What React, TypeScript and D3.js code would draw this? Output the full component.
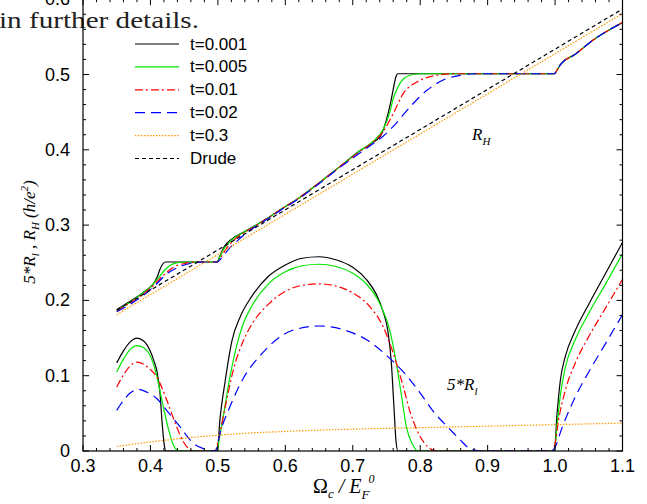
import React from "react";
import * as d3 from "d3";

type P = [number, number];

const legendLabels = ["t=0.001", "t=0.005", "t=0.01", "t=0.02", "t=0.3", "Drude"];
const xTicks = [0.3, 0.4, 0.5, 0.6, 0.7, 0.8, 0.9, 1.0, 1.1];
const yTicks = [0, 0.1, 0.2, 0.3, 0.4, 0.5, 0.6];

// 5*R_l curves
const rl001: P[] = [[0.35,0.117],[0.36,0.133],[0.37,0.145],[0.38,0.150],[0.39,0.146],[0.40,0.132],[0.405,0.120],[0.41,0.104],[0.414,0.078],[0.418,0.030],[0.421,0.005],[0.423,0],[0.499,0],[0.503,0.041],[0.511,0.094],[0.521,0.147],[0.533,0.178],[0.55,0.205],[0.575,0.232],[0.6,0.247],[0.625,0.256],[0.65,0.258],[0.675,0.254],[0.7,0.244],[0.72,0.228],[0.735,0.208],[0.745,0.185],[0.752,0.160],[0.757,0.120],[0.761,0.060],[0.764,0.015],[0.767,0],[0.999,0],[1.003,0.05],[1.008,0.095],[1.015,0.125],[1.03,0.16],[1.05,0.195],[1.075,0.236],[1.1,0.277]];
const rl005: P[] = [[0.35,0.105],[0.36,0.122],[0.37,0.135],[0.38,0.140],[0.39,0.137],[0.40,0.126],[0.409,0.101],[0.419,0.059],[0.427,0.028],[0.434,0.008],[0.44,0.001],[0.445,0],[0.499,0],[0.502,0.015],[0.508,0.046],[0.518,0.099],[0.530,0.147],[0.538,0.170],[0.55,0.192],[0.575,0.222],[0.6,0.238],[0.625,0.246],[0.65,0.248],[0.675,0.245],[0.7,0.236],[0.72,0.222],[0.74,0.196],[0.755,0.160],[0.765,0.115],[0.772,0.075],[0.78,0.030],[0.788,0.010],[0.797,0],[0.999,0],[1.003,0.035],[1.008,0.075],[1.015,0.11],[1.03,0.148],[1.05,0.183],[1.075,0.222],[1.1,0.262]];
const rl01: P[] = [[0.35,0.085],[0.36,0.101],[0.37,0.113],[0.38,0.118],[0.39,0.115],[0.40,0.108],[0.409,0.099],[0.424,0.068],[0.439,0.032],[0.449,0.012],[0.457,0.003],[0.465,0],[0.496,0],[0.5,0.012],[0.511,0.059],[0.523,0.108],[0.538,0.147],[0.553,0.172],[0.575,0.195],[0.6,0.212],[0.625,0.220],[0.65,0.222],[0.675,0.219],[0.7,0.210],[0.725,0.192],[0.745,0.165],[0.76,0.130],[0.775,0.085],[0.785,0.052],[0.795,0.028],[0.805,0.012],[0.815,0.003],[0.825,0],[0.996,0],[1.0,0.01],[1.005,0.04],[1.015,0.08],[1.03,0.117],[1.05,0.152],[1.075,0.19],[1.1,0.228]];
const rl02: P[] = [[0.35,0.054],[0.36,0.067],[0.37,0.077],[0.382,0.082],[0.395,0.078],[0.409,0.070],[0.424,0.054],[0.444,0.032],[0.464,0.010],[0.479,0.003],[0.49,0],[0.497,0.001],[0.503,0.023],[0.518,0.059],[0.538,0.097],[0.563,0.127],[0.587,0.148],[0.61,0.160],[0.65,0.166],[0.69,0.160],[0.72,0.148],[0.75,0.127],[0.78,0.100],[0.8,0.077],[0.82,0.052],[0.845,0.028],[0.859,0.015],[0.874,0.003],[0.89,0],[0.995,0],[1.0,0.005],[1.01,0.03],[1.03,0.072],[1.05,0.105],[1.075,0.143],[1.1,0.181]];
const rl3: P[] = [[0.35,0.006],[0.4,0.012],[0.45,0.017],[0.5,0.021],[0.55,0.024],[0.6,0.026],[0.7,0.029],[0.8,0.031],[0.9,0.033],[1.0,0.035],[1.1,0.037]];

// R_H curves
const rh001: P[] = [[0.35,0.188],[0.37,0.199],[0.39,0.211],[0.40,0.218],[0.405,0.223],[0.41,0.231],[0.414,0.241],[0.418,0.248],[0.422,0.251],[0.499,0.251],[0.503,0.259],[0.51,0.272],[0.52,0.281],[0.543,0.293],[0.57,0.307],[0.592,0.320],[0.62,0.336],[0.65,0.356],[0.68,0.377],[0.711,0.399],[0.73,0.41],[0.741,0.418],[0.75,0.44],[0.756,0.462],[0.761,0.485],[0.764,0.497],[0.767,0.501],[0.999,0.501],[1.003,0.506],[1.008,0.513],[1.03,0.527],[1.057,0.546],[1.1,0.569]];
const rh005: P[] = [[0.35,0.187],[0.37,0.198],[0.39,0.211],[0.40,0.218],[0.41,0.228],[0.42,0.239],[0.43,0.247],[0.44,0.250],[0.45,0.251],[0.499,0.251],[0.503,0.258],[0.51,0.270],[0.52,0.280],[0.543,0.293],[0.57,0.307],[0.592,0.320],[0.62,0.336],[0.65,0.356],[0.68,0.377],[0.711,0.399],[0.73,0.411],[0.745,0.427],[0.755,0.45],[0.76,0.468],[0.768,0.485],[0.775,0.494],[0.785,0.499],[0.8,0.501],[0.999,0.501],[1.003,0.506],[1.008,0.513],[1.03,0.527],[1.057,0.546],[1.1,0.569]];
const rh01: P[] = [[0.35,0.186],[0.37,0.197],[0.39,0.209],[0.40,0.216],[0.42,0.234],[0.434,0.244],[0.45,0.249],[0.47,0.251],[0.499,0.251],[0.505,0.258],[0.515,0.272],[0.525,0.281],[0.543,0.292],[0.57,0.307],[0.592,0.320],[0.62,0.336],[0.65,0.356],[0.68,0.377],[0.711,0.398],[0.73,0.41],[0.745,0.424],[0.76,0.448],[0.775,0.475],[0.795,0.49],[0.825,0.499],[0.85,0.501],[0.999,0.501],[1.003,0.506],[1.008,0.513],[1.03,0.527],[1.057,0.546],[1.1,0.569]];
const rh02: P[] = [[0.35,0.185],[0.37,0.195],[0.39,0.207],[0.407,0.22],[0.424,0.235],[0.444,0.245],[0.459,0.249],[0.48,0.251],[0.499,0.251],[0.505,0.256],[0.518,0.27],[0.53,0.28],[0.543,0.29],[0.57,0.306],[0.592,0.319],[0.62,0.335],[0.65,0.355],[0.68,0.376],[0.711,0.396],[0.73,0.408],[0.745,0.418],[0.76,0.431],[0.785,0.457],[0.81,0.479],[0.835,0.493],[0.86,0.499],[0.88,0.501],[0.999,0.501],[1.003,0.506],[1.008,0.513],[1.03,0.527],[1.057,0.546],[1.1,0.569]];
const rh3: P[] = [[0.35,0.181],[1.1,0.581]];
const drude: P[] = [[0.35,0.187],[1.1,0.587]];

const W = 647, H = 504;
const L = 83, R = 622.5, B = 451;

export default function App() {
  const x = d3.scaleLinear().domain([0.3, 1.1]).range([L, R]);
  const y = d3.scaleLinear().domain([0, 0.6]).range([B, -0.8]);
  const line = d3.line<P>().x(d => x(d[0])).y(d => y(d[1])).curve(d3.curveMonotoneX);

  const styles = [
    { color: "#000000", dash: "" },
    { color: "#00e600", dash: "" },
    { color: "#ff0000", dash: "8,3,2,3" },
    { color: "#0000ff", dash: "10,6" },
    { color: "#ff9900", dash: "1.5,1.5" },
    { color: "#000000", dash: "4,3" },
  ];
  const groups: P[][][] = [[rl001, rh001], [rl005, rh005], [rl01, rh01], [rl02, rh02], [rl3, rh3], [drude]];

  const xMinor = d3.range(0, 41).map(i => 0.3 + i * 0.02);
  const yMinor = d3.range(0, 31).map(i => i * 0.02);
  const font = "'Liberation Sans', Arial, sans-serif";
  const serif = "'Liberation Serif', 'Times New Roman', serif";
  const top = y(0.6);

  return (
    <svg width={W} height={H} style={{ position: "absolute", left: 0, top: 0, background: "#fff" }}>
      <defs>
        <clipPath id="plot"><rect x={L} y={top} width={R - L} height={B - top} /></clipPath>
      </defs>
      <text x={-1} y={28} fontFamily={serif} fontSize={24} textLength={200} lengthAdjust="spacingAndGlyphs" fill="#222">in further details.</text>
      <g clipPath="url(#plot)" fill="none">
        {groups.map((g, i) => g.map((d, j) => (
          <path key={i + "-" + j} d={line(d) || ""} stroke={styles[i].color} strokeWidth={1.2} strokeDasharray={styles[i].dash} />
        )))}
      </g>
      <rect x={L} y={top} width={R - L} height={B - top} fill="none" stroke="#000" strokeWidth={1.2} />
      <g stroke="#000" strokeWidth={1}>
        {xMinor.map((v, i) => {
          const len = i % 5 === 0 ? 6 : 3;
          const px = x(v);
          return (
            <g key={"xt" + i}>
              <line x1={px} x2={px} y1={B} y2={B - len} />
              <line x1={px} x2={px} y1={top} y2={top + len} />
            </g>
          );
        })}
        {yMinor.map((v, i) => {
          const len = i % 5 === 0 ? 6 : 3;
          const py = y(v);
          return (
            <g key={"yt" + i}>
              <line x1={L} x2={L + len} y1={py} y2={py} />
              <line x1={R} x2={R - len} y1={py} y2={py} />
            </g>
          );
        })}
      </g>
      <g fontFamily={font} fontSize={18} fill="#000">
        {xTicks.map(v => (
          <text key={"xl" + v} x={x(v)} y={472} textAnchor="middle">{d3.format(".1f")(v)}</text>
        ))}
        {yTicks.map(v => (
          <text key={"yl" + v} x={70} y={y(v)} textAnchor="end" dominantBaseline="central">{v === 0 ? "0" : d3.format(".1f")(v)}</text>
        ))}
      </g>
      <g>
        {legendLabels.map((lab, i) => {
          const ly = 44 + i * 22.9;
          return (
            <g key={lab}>
              <line x1={135} x2={179} y1={ly} y2={ly} stroke={styles[i].color} strokeWidth={1.2} strokeDasharray={styles[i].dash} />
              <text x={190} y={ly} dominantBaseline="central" fontFamily={font} fontSize={17}>{lab}</text>
            </g>
          );
        })}
      </g>
      <text x={472} y={140} fontFamily={serif} fontStyle="italic" fontSize={17}>
        R<tspan fontSize={11} dy={5}>H</tspan>
      </text>
      <text x={447} y={390} fontFamily={serif} fontStyle="italic" fontSize={17}>
        5*R<tspan fontSize={11} dy={5}>l</tspan>
      </text>
      <text x={313} y={493} fontFamily={serif} fontSize={20}>
        Ω<tspan fontStyle="italic" fontSize={13} dy={5}>c</tspan>
        <tspan fontStyle="italic" dy={-5}> / E</tspan>
        <tspan fontStyle="italic" fontSize={13} dy={6}>F</tspan>
        <tspan fontStyle="italic" fontSize={12} dx={-1} dy={-16}>0</tspan>
      </text>
      <text transform="translate(35,232) rotate(-90)" textAnchor="middle" fontFamily={serif} fontStyle="italic" fontSize={17}>
        5*R<tspan fontSize={11} dy={4}>l</tspan>
        <tspan dy={-4}> , R</tspan>
        <tspan fontSize={11} dy={4}>H</tspan>
        <tspan dy={-4}>  (h/e</tspan>
        <tspan fontSize={11} dy={-7}>2</tspan>
        <tspan dy={7}>)</tspan>
      </text>
    </svg>
  );
}
